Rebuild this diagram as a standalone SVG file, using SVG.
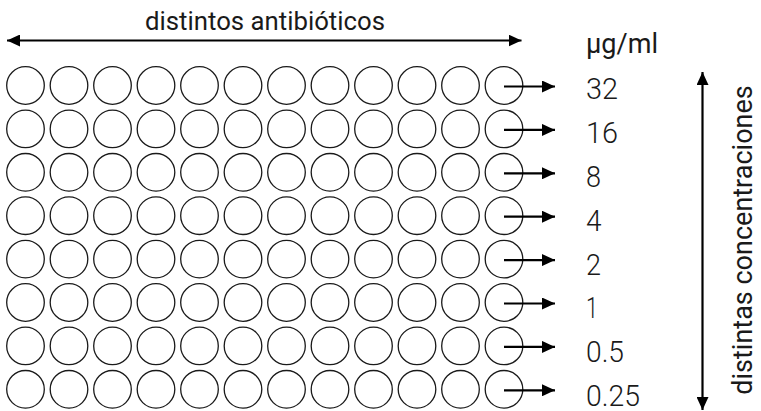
<svg xmlns="http://www.w3.org/2000/svg" width="761" height="411" viewBox="0 0 761 411">
<style>
.w{fill:none;stroke:#1a1a1a;stroke-width:1.3}
.t{font-family:Roboto,"Liberation Sans",sans-serif;fill:#1a1a1a;font-weight:400}
.n{font-size:30px;font-weight:300}
.a{stroke:#000;stroke-width:2.2;fill:none}
</style>
<defs>
<marker id="ah" viewBox="0 0 13 12" refX="13" refY="6" markerWidth="13" markerHeight="12" markerUnits="userSpaceOnUse" orient="auto-start-reverse"><path d="M0,0 L13,6 L0,12 z" fill="#000"/></marker>
<circle id="c" r="18.8" class="w"/>
</defs>
<rect width="761" height="411" fill="#fff"/>
<g id="labels">
<text class="t" x="145" y="29.5" font-size="26" textLength="240" lengthAdjust="spacingAndGlyphs">distintos antibióticos</text>
<text class="t" x="586" y="53" font-size="27" font-weight="300" textLength="72" lengthAdjust="spacingAndGlyphs">µg/ml</text>
<text class="t n" x="586" y="98.5" textLength="32" lengthAdjust="spacingAndGlyphs">32</text>
<text class="t n" x="586" y="142.5" textLength="32" lengthAdjust="spacingAndGlyphs">16</text>
<text class="t n" x="586" y="186.5" textLength="15" lengthAdjust="spacingAndGlyphs">8</text>
<text class="t n" x="586" y="230.5" textLength="15.5" lengthAdjust="spacingAndGlyphs">4</text>
<text class="t n" x="586" y="274.5" textLength="15" lengthAdjust="spacingAndGlyphs">2</text>
<text class="t n" x="586" y="318" textLength="12" lengthAdjust="spacingAndGlyphs">1</text>
<text class="t n" x="586" y="362" textLength="38" lengthAdjust="spacingAndGlyphs">0.5</text>
<text class="t n" x="586" y="405.5" textLength="54" lengthAdjust="spacingAndGlyphs">0.25</text>
<text class="t" font-size="27" text-anchor="middle" transform="translate(752,240) rotate(-90)">distintas concentraciones</text>
</g>
<g id="wells">
<g id="r1"><use href="#c" x="25.5" y="85.5"/><use href="#c" x="69" y="85.5"/><use href="#c" x="112.5" y="85.5"/><use href="#c" x="156" y="85.5"/><use href="#c" x="199.5" y="85.5"/><use href="#c" x="243" y="85.5"/><use href="#c" x="286.5" y="85.5"/><use href="#c" x="330" y="85.5"/><use href="#c" x="373.5" y="85.5"/><use href="#c" x="417" y="85.5"/><use href="#c" x="460.5" y="85.5"/><use href="#c" x="504" y="85.5"/></g>
<g id="r2"><use href="#c" x="25.5" y="128.9"/><use href="#c" x="69" y="128.9"/><use href="#c" x="112.5" y="128.9"/><use href="#c" x="156" y="128.9"/><use href="#c" x="199.5" y="128.9"/><use href="#c" x="243" y="128.9"/><use href="#c" x="286.5" y="128.9"/><use href="#c" x="330" y="128.9"/><use href="#c" x="373.5" y="128.9"/><use href="#c" x="417" y="128.9"/><use href="#c" x="460.5" y="128.9"/><use href="#c" x="504" y="128.9"/></g>
<g id="r3"><use href="#c" x="25.5" y="172.3"/><use href="#c" x="69" y="172.3"/><use href="#c" x="112.5" y="172.3"/><use href="#c" x="156" y="172.3"/><use href="#c" x="199.5" y="172.3"/><use href="#c" x="243" y="172.3"/><use href="#c" x="286.5" y="172.3"/><use href="#c" x="330" y="172.3"/><use href="#c" x="373.5" y="172.3"/><use href="#c" x="417" y="172.3"/><use href="#c" x="460.5" y="172.3"/><use href="#c" x="504" y="172.3"/></g>
<g id="r4"><use href="#c" x="25.5" y="215.7"/><use href="#c" x="69" y="215.7"/><use href="#c" x="112.5" y="215.7"/><use href="#c" x="156" y="215.7"/><use href="#c" x="199.5" y="215.7"/><use href="#c" x="243" y="215.7"/><use href="#c" x="286.5" y="215.7"/><use href="#c" x="330" y="215.7"/><use href="#c" x="373.5" y="215.7"/><use href="#c" x="417" y="215.7"/><use href="#c" x="460.5" y="215.7"/><use href="#c" x="504" y="215.7"/></g>
<g id="r5"><use href="#c" x="25.5" y="259.1"/><use href="#c" x="69" y="259.1"/><use href="#c" x="112.5" y="259.1"/><use href="#c" x="156" y="259.1"/><use href="#c" x="199.5" y="259.1"/><use href="#c" x="243" y="259.1"/><use href="#c" x="286.5" y="259.1"/><use href="#c" x="330" y="259.1"/><use href="#c" x="373.5" y="259.1"/><use href="#c" x="417" y="259.1"/><use href="#c" x="460.5" y="259.1"/><use href="#c" x="504" y="259.1"/></g>
<g id="r6"><use href="#c" x="25.5" y="302.5"/><use href="#c" x="69" y="302.5"/><use href="#c" x="112.5" y="302.5"/><use href="#c" x="156" y="302.5"/><use href="#c" x="199.5" y="302.5"/><use href="#c" x="243" y="302.5"/><use href="#c" x="286.5" y="302.5"/><use href="#c" x="330" y="302.5"/><use href="#c" x="373.5" y="302.5"/><use href="#c" x="417" y="302.5"/><use href="#c" x="460.5" y="302.5"/><use href="#c" x="504" y="302.5"/></g>
<g id="r7"><use href="#c" x="25.5" y="345.9"/><use href="#c" x="69" y="345.9"/><use href="#c" x="112.5" y="345.9"/><use href="#c" x="156" y="345.9"/><use href="#c" x="199.5" y="345.9"/><use href="#c" x="243" y="345.9"/><use href="#c" x="286.5" y="345.9"/><use href="#c" x="330" y="345.9"/><use href="#c" x="373.5" y="345.9"/><use href="#c" x="417" y="345.9"/><use href="#c" x="460.5" y="345.9"/><use href="#c" x="504" y="345.9"/></g>
<g id="r8"><use href="#c" x="25.5" y="389.3"/><use href="#c" x="69" y="389.3"/><use href="#c" x="112.5" y="389.3"/><use href="#c" x="156" y="389.3"/><use href="#c" x="199.5" y="389.3"/><use href="#c" x="243" y="389.3"/><use href="#c" x="286.5" y="389.3"/><use href="#c" x="330" y="389.3"/><use href="#c" x="373.5" y="389.3"/><use href="#c" x="417" y="389.3"/><use href="#c" x="460.5" y="389.3"/><use href="#c" x="504" y="389.3"/></g>
</g>
<g id="connectors">
<line class="a" x1="7" y1="40.5" x2="521.5" y2="40.5" stroke-width="2.5" marker-start="url(#ah)" marker-end="url(#ah)"/>
<line class="a" x1="702.5" y1="72" x2="702.5" y2="410" marker-start="url(#ah)" marker-end="url(#ah)"/>
<line class="a" x1="504" y1="86.5" x2="555" y2="86.5" marker-end="url(#ah)"/>
<line class="a" x1="504" y1="129.9" x2="555" y2="129.9" marker-end="url(#ah)"/>
<line class="a" x1="504" y1="173.3" x2="555" y2="173.3" marker-end="url(#ah)"/>
<line class="a" x1="504" y1="216.7" x2="555" y2="216.7" marker-end="url(#ah)"/>
<line class="a" x1="504" y1="260.1" x2="555" y2="260.1" marker-end="url(#ah)"/>
<line class="a" x1="504" y1="303.5" x2="555" y2="303.5" marker-end="url(#ah)"/>
<line class="a" x1="504" y1="346.9" x2="555" y2="346.9" marker-end="url(#ah)"/>
<line class="a" x1="504" y1="390.3" x2="555" y2="390.3" marker-end="url(#ah)"/>
</g>
</svg>
